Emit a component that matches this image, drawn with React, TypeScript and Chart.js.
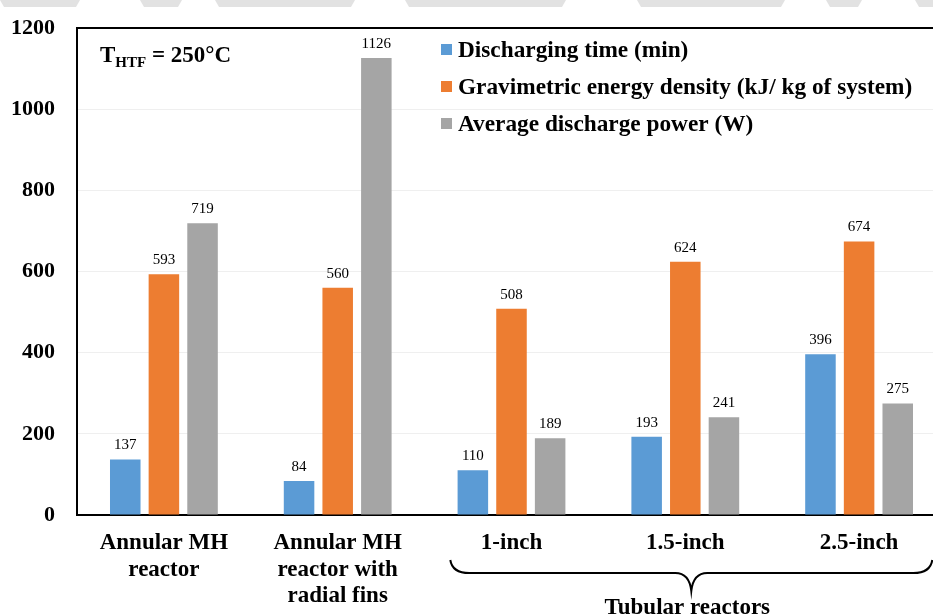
import React, { useEffect, useRef } from "react";
import { Chart, registerables } from "chart.js";

Chart.register(...registerables);

const categories: (string | string[])[] = [
  ["Annular MH", "reactor"],
  ["Annular MH", "reactor with", "radial fins"],
  "1-inch",
  "1.5-inch",
  "2.5-inch",
];
const seriesNames = [
  "Discharging time (min)",
  "Gravimetric energy density (kJ/ kg of system)",
  "Average discharge power (W)",
];
const dischargingTime = [137, 84, 110, 193, 396];
const energyDensity = [593, 560, 508, 624, 674];
const dischargePower = [719, 1126, 189, 241, 275];
const seriesColors = ["#5B9BD5", "#ED7D31", "#A5A5A5"];
const yTicks = { min: 0, max: 1200, step: 200 };
const groupLabel = "Tubular reactors";

const SERIF = "'Liberation Serif', 'Times New Roman', serif";

const decorPlugin = {
  id: "decor",
  beforeDraw(chart: any) {
    const ctx = chart.ctx;
    ctx.save();
    ctx.fillStyle = "#ffffff";
    ctx.fillRect(0, 0, chart.width, chart.height);
    // faint watermark band at the very top
    ctx.fillStyle = "#e2e2e2";
    const segs = [
      [0, 80],
      [140, 182],
      [215, 355],
      [405, 566],
      [637, 785],
      [826, 862],
      [915, 940],
    ];
    for (const [a, b] of segs) {
      ctx.beginPath();
      ctx.moveTo(a, 0);
      ctx.lineTo(b, 0);
      ctx.lineTo(b - 4, 7);
      ctx.lineTo(a + 4, 7);
      ctx.closePath();
      ctx.fill();
    }
    ctx.restore();
  },
  afterDatasetsDraw(chart: any) {
    const ctx = chart.ctx;
    const area = chart.chartArea;
    ctx.save();
    // top frame line
    ctx.strokeStyle = "#000";
    ctx.lineWidth = 2;
    ctx.beginPath();
    ctx.moveTo(area.left - 1, area.top);
    ctx.lineTo(area.right + 1, area.top);
    ctx.stroke();

    // data labels
    ctx.fillStyle = "#000";
    ctx.font = `15px ${SERIF}`;
    ctx.textAlign = "center";
    ctx.textBaseline = "middle";
    chart.data.datasets.forEach((ds: any, i: number) => {
      const meta = chart.getDatasetMeta(i);
      meta.data.forEach((bar: any, j: number) => {
        ctx.fillText(String(ds.data[j]), bar.x, bar.y - 14);
      });
    });

    // legend
    chart.data.datasets.forEach((ds: any, i: number) => {
      const cy = 49.5 + i * 37;
      ctx.fillStyle = ds.backgroundColor;
      ctx.fillRect(441, cy - 5.5, 11, 11);
      ctx.fillStyle = "#000";
      ctx.font = `bold 23.3px ${SERIF}`;
      ctx.textAlign = "left";
      ctx.textBaseline = "middle";
      ctx.fillText(ds.label, 458, cy + 1);
    });

    // T_HTF annotation
    ctx.textBaseline = "alphabetic";
    ctx.textAlign = "left";
    ctx.font = `bold 23px ${SERIF}`;
    let x = 100;
    ctx.fillText("T", x, 62);
    x += ctx.measureText("T").width;
    ctx.font = `bold 15px ${SERIF}`;
    ctx.fillText("HTF", x, 67);
    x += ctx.measureText("HTF").width;
    ctx.font = `bold 23px ${SERIF}`;
    ctx.fillText(" = 250°C", x, 62);

    // brace under tubular reactors
    const xs = chart.scales.x;
    const c2 = xs.getPixelForValue(2);
    const c4 = xs.getPixelForValue(4);
    const mid = (c2 + c4) / 2 + 6;
    const L = mid - 241;
    const R = mid + 241;
    ctx.strokeStyle = "#000";
    ctx.lineWidth = 2;
    ctx.beginPath();
    ctx.moveTo(L, 560);
    ctx.quadraticCurveTo(L + 2, 573, L + 19, 573);
    ctx.lineTo(mid - 16, 573);
    ctx.quadraticCurveTo(mid - 2, 573, mid, 591);
    ctx.quadraticCurveTo(mid + 2, 573, mid + 16, 573);
    ctx.lineTo(R - 19, 573);
    ctx.quadraticCurveTo(R - 2, 573, R, 560);
    ctx.stroke();

    ctx.fillStyle = "#000";
    ctx.font = `bold 23px ${SERIF}`;
    ctx.textAlign = "center";
    ctx.fillText(groupLabel, mid - 4, 614);
    ctx.restore();
  },
};

export default function App() {
  const canvasRef = useRef<HTMLCanvasElement | null>(null);

  useEffect(() => {
    if (!canvasRef.current) return;
    const seriesData = [dischargingTime, energyDensity, dischargePower];
    const chart = new Chart(canvasRef.current, {
      type: "bar",
      data: {
        labels: categories,
        datasets: seriesNames.map((name, i) => ({
          label: name,
          data: seriesData[i],
          backgroundColor: seriesColors[i],
          borderWidth: 0,
          categoryPercentage: 0.667,
          barPercentage: 0.79,
        })),
      },
      options: {
        responsive: false,
        animation: false,
        devicePixelRatio: 1,
        layout: { padding: { top: 28, right: 14, left: 0, bottom: 0 } },
        plugins: {
          legend: { display: false },
          tooltip: { enabled: false },
        },
        scales: {
          x: {
            afterFit(scale: any) {
              scale.height = 99;
              scale.paddingLeft = 0;
              scale.paddingRight = 0;
            },
            grid: { display: false, drawTicks: false },
            border: { display: true, color: "#000", width: 2 },
            ticks: {
              color: "#000",
              font: { family: SERIF, size: 23, weight: "bold", lineHeight: 1.15 },
              padding: 15,
              maxRotation: 0,
              minRotation: 0,
              autoSkip: false,
            },
          },
          y: {
            min: yTicks.min,
            max: yTicks.max,
            afterFit(scale: any) {
              scale.width = 77;
              scale.paddingTop = 0;
              scale.paddingBottom = 0;
            },
            grid: { color: "#efefef", lineWidth: 1, drawTicks: false },
            border: { display: true, color: "#000", width: 2 },
            ticks: {
              stepSize: yTicks.step,
              color: "#000",
              font: { family: SERIF, size: 22, weight: "bold" },
              padding: 22,
              callback: (v: any) => String(v),
            },
          },
        },
      },
      plugins: [decorPlugin],
    });
    return () => chart.destroy();
  }, []);

  return (
    <div
      style={{
        position: "fixed",
        left: 0,
        top: 0,
        width: 933,
        height: 614,
        overflow: "hidden",
        background: "#fff",
      }}
    >
      <canvas ref={canvasRef} width={960} height={614} style={{ display: "block" }} />
    </div>
  );
}
